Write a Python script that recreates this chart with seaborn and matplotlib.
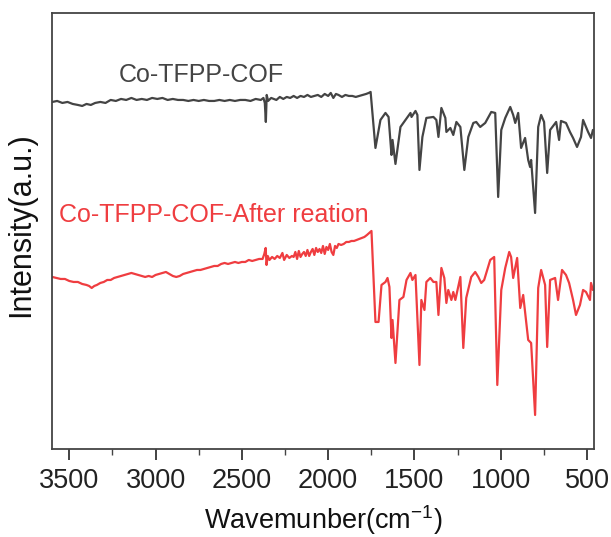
import matplotlib
matplotlib.use("Agg")
import matplotlib.pyplot as plt
import seaborn as sns
import pandas as pd
from matplotlib.ticker import MultipleLocator

# ---------------- data (wavenumber cm^-1, intensity a.u.) ----------------
cof_wn = [3598, 3570, 3540, 3510, 3480, 3450, 3425, 3400, 3375, 3350, 3320, 3290, 3260, 3230,
          3200, 3170, 3140, 3110, 3080, 3050, 3020, 2990, 2960, 2930, 2900, 2870, 2840, 2810,
          2780, 2750, 2720, 2690, 2660, 2630, 2600, 2570, 2540, 2510, 2480, 2450, 2420, 2390,
          2375, 2367, 2361, 2356, 2348, 2330, 2300, 2280, 2260, 2240, 2220, 2200, 2180, 2160,
          2140, 2120, 2100, 2080, 2060, 2040, 2020, 2000, 1985, 1970, 1955, 1940, 1920, 1900,
          1880, 1860, 1840, 1820, 1800, 1780, 1765, 1754,
          1726, 1697, 1668, 1650, 1633, 1627, 1610, 1581, 1552, 1523, 1517, 1494, 1483, 1471,
          1454, 1431, 1390, 1373, 1361, 1344, 1321, 1315, 1292, 1275, 1257, 1234, 1211, 1188,
          1159, 1142, 1119, 1090, 1055, 1032, 1015, 997, 974, 945, 928, 916, 899, 882, 859,
          841, 830, 824, 801, 783, 766, 749, 731, 714, 679, 662, 651, 622, 599, 581, 558, 535,
          523, 494, 477, 466]
cof_int = [3.50, 3.51, 3.49, 3.50, 3.48, 3.47, 3.46, 3.48, 3.47, 3.49, 3.50, 3.49, 3.52, 3.51,
           3.53, 3.52, 3.54, 3.52, 3.53, 3.52, 3.54, 3.53, 3.54, 3.52, 3.53, 3.52, 3.52, 3.51,
           3.52, 3.51, 3.52, 3.51, 3.51, 3.52, 3.51, 3.52, 3.51, 3.52, 3.52, 3.51, 3.53, 3.52,
           3.54, 3.49, 3.30, 3.57, 3.51, 3.54, 3.52, 3.55, 3.53, 3.55, 3.54, 3.56, 3.54, 3.56,
           3.55, 3.57, 3.55, 3.56, 3.57, 3.55, 3.58, 3.56, 3.59, 3.54, 3.58, 3.57, 3.55, 3.57,
           3.56, 3.56, 3.55, 3.56, 3.57, 3.58, 3.59, 3.60,
           3.04, 3.32, 3.39, 3.35, 2.97, 3.12, 2.88, 3.25, 3.32, 3.39, 3.35, 3.41, 3.37, 2.82,
           3.15, 3.34, 3.35, 3.32, 3.15, 3.44, 3.34, 3.20, 3.24, 3.17, 3.30, 3.25, 2.82, 3.15,
           3.29, 3.30, 3.25, 3.29, 3.40, 3.39, 2.55, 3.22, 3.34, 3.45, 3.37, 3.29, 3.39, 3.04, 3.14,
           2.92, 2.85, 2.92, 2.39, 3.25, 3.37, 3.30, 2.79, 3.22, 3.30, 3.12, 3.31, 3.29, 3.20, 3.14, 3.05, 3.15,
           3.32, 3.20, 3.14, 3.22]

after_wn = [3598, 3575, 3550, 3525, 3500, 3475, 3450, 3425, 3400, 3385, 3370, 3355, 3340, 3320,
            3300, 3280, 3260, 3240, 3220, 3200, 3180, 3160, 3140, 3120, 3100, 3080, 3060, 3040,
            3020, 3000, 2980, 2960, 2940, 2920, 2900, 2880, 2860, 2840, 2820, 2800, 2780, 2760,
            2740, 2720, 2700, 2680, 2660, 2640, 2620, 2600, 2580, 2560, 2540, 2520, 2500, 2480,
            2460, 2440, 2420, 2400, 2380, 2370, 2362, 2357, 2350, 2340, 2325, 2310, 2295, 2280,
            2265, 2255, 2240, 2225, 2210, 2200, 2190, 2180, 2170, 2160, 2150, 2140, 2130, 2120,
            2110, 2100, 2090, 2080, 2070, 2060, 2050, 2040, 2030, 2020, 2010, 2000, 1990, 1980,
            1970, 1960, 1950, 1940, 1925, 1910, 1895, 1880, 1865, 1850, 1835, 1820, 1805, 1790,
            1775, 1762, 1749,
            1726, 1708, 1691, 1668, 1656, 1645, 1633, 1627, 1610, 1587, 1564, 1546, 1523, 1512,
            1494, 1471, 1460, 1442, 1431, 1408, 1390, 1373, 1361, 1344, 1327, 1315, 1304, 1286,
            1275, 1263, 1234, 1217, 1200, 1171, 1148, 1130, 1113, 1096, 1061, 1038, 1020, 997,
            974, 951, 940, 928, 905, 887, 870, 841, 824, 801, 783, 766, 743, 731, 714, 685, 668,
            645, 622, 604, 581, 564, 541, 523, 506, 483, 477, 466]
after_int = [1.75, 1.74, 1.73, 1.73, 1.71, 1.70, 1.70, 1.68, 1.67, 1.66, 1.64, 1.66, 1.67, 1.69,
             1.70, 1.72, 1.72, 1.74, 1.75, 1.76, 1.77, 1.78, 1.79, 1.78, 1.77, 1.76, 1.75, 1.76,
             1.75, 1.77, 1.78, 1.79, 1.80, 1.78, 1.76, 1.75, 1.76, 1.78, 1.79, 1.80, 1.81, 1.82,
             1.82, 1.83, 1.84, 1.85, 1.86, 1.86, 1.88, 1.89, 1.88, 1.89, 1.90, 1.89, 1.90, 1.90,
             1.92, 1.91, 1.92, 1.93, 1.93, 1.98, 2.04, 1.87, 1.96, 1.92, 1.95, 1.93, 1.96, 1.94,
             1.99, 1.92, 1.97, 1.94, 1.96, 1.95, 2.00, 1.93, 2.01, 1.95, 1.98, 2.00, 1.96, 2.02,
             1.96, 2.00, 2.03, 1.97, 2.04, 2.00, 2.03, 1.99, 2.06, 1.98, 2.05, 2.02, 2.08, 2.00,
             1.97, 2.06, 2.04, 2.08, 2.07, 2.08, 2.10, 2.10, 2.11, 2.11, 2.12, 2.13, 2.14, 2.15,
             2.17, 2.19, 2.21,
             1.30, 1.30, 1.67, 1.70, 1.74, 1.65, 1.14, 1.32, 0.89, 1.52, 1.55, 1.72, 1.79, 1.72,
             1.77, 0.87, 1.52, 1.42, 1.70, 1.74, 1.70, 1.70, 1.37, 1.84, 1.74, 1.49, 1.62, 1.52,
             1.60, 1.52, 1.75, 1.04, 1.54, 1.75, 1.80, 1.75, 1.69, 1.72, 1.92, 1.95, 0.67, 1.62,
             1.84, 2.00, 1.95, 1.74, 1.94, 1.44, 1.57, 1.12, 1.09, 0.37, 1.64, 1.82, 1.67, 1.05, 1.72, 1.74, 1.52,
             1.82, 1.77, 1.69, 1.52, 1.37, 1.47, 1.62, 1.60, 1.52, 1.69, 1.62]

labels = ["Co-TFPP-COF", "Co-TFPP-COF-After reation"]
colors = ["#444444", "#EF3D40"]
xticks = [3500, 3000, 2500, 2000, 1500, 1000, 500]

# ---------------- plot ----------------
sns.set_theme(style="ticks")
plt.rcParams["font.family"] = ["Liberation Sans", "DejaVu Sans"]
plt.rcParams["mathtext.fontset"] = "custom"
plt.rcParams["mathtext.rm"] = "Liberation Sans"
plt.rcParams["mathtext.it"] = "Liberation Sans:italic"
plt.rcParams["mathtext.bf"] = "Liberation Sans:bold"

df = pd.concat([
    pd.DataFrame({"wn": cof_wn, "I": cof_int, "s": labels[0]}),
    pd.DataFrame({"wn": after_wn, "I": after_int, "s": labels[1]}),
])

fig = plt.figure(figsize=(6.11, 5.37), dpi=100)
ax = fig.add_axes([0.0851, 0.1639, 0.887, 0.812])

sns.lineplot(data=df, x="wn", y="I", hue="s", palette=colors, estimator=None,
             linewidth=1.6, legend=False, ax=ax)

ax.set_xlim(3600, 460)
ax.set_ylim(0.03, 4.39)
ax.set_xticks(xticks)
ax.xaxis.set_minor_locator(MultipleLocator(250))
ax.set_yticks([])
ax.tick_params(axis="x", which="major", direction="out", length=8, width=1.2,
               labelsize=19.5, pad=6, colors="#222222")
ax.tick_params(axis="x", which="minor", direction="out", length=4, width=1.0, colors="#444444")
for sp in ax.spines.values():
    sp.set_visible(True)
    sp.set_color("#444444")
    sp.set_linewidth(1.3)

ax.set_xlabel("Wavemunber(cm$\\mathregular{^{-1}}$)", fontsize=19.5, labelpad=6, color="#111111")
ax.set_ylabel("Intensity(a.u.)", fontsize=22, color="#111111")
ax.yaxis.set_label_coords(-0.03, 0.515)

ax.text(2737, 3.77, labels[0], color=colors[0], fontsize=18, ha="center", va="center")
ax.text(2662, 2.37, labels[1], color=colors[1], fontsize=18, ha="center", va="center")

fig.savefig("out.png", dpi=100)
